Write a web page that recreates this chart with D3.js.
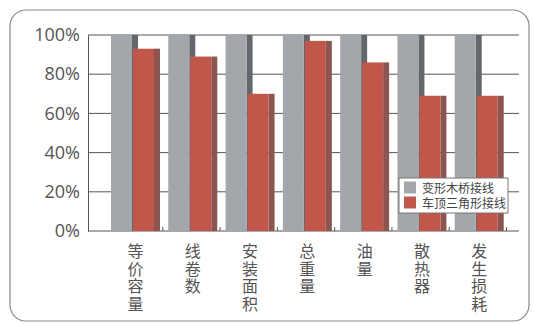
<!DOCTYPE html>
<html><head><meta charset="utf-8">
<script src="https://cdn.jsdelivr.net/npm/d3@7/dist/d3.min.js"></script>
<style>body{margin:0;background:#fff}svg{display:block}</style>
</head><body>
<svg id="c" width="534" height="324"></svg>
<script>
const categories = ["等价容量","线卷数","安装面积","总重量","油量","散热器","发生损耗"];
const seriesNames = ["变形木桥接线","车顶三角形接线"];
const seriesA = [100,100,100,100,100,100,100];
const seriesB = [93,89,70,97,86,69,69];
const yTicks = [0,20,40,60,80,100];

const svg = d3.select("#c");
const font = "'Open Sans','Noto Sans CJK SC',sans-serif";
const cjk = "'Noto Sans CJK SC',sans-serif";

// frame
svg.append("rect").attr("x",10).attr("y",10).attr("width",519).attr("height",311)
  .attr("rx",16).attr("fill","none").attr("stroke","#8a8a8a").attr("stroke-width",1.2);

const plotL = 88, plotR = 519, plotTop = 35, plotBot = 231;
const y = d3.scaleLinear().domain([0,100]).range([plotBot, plotTop]);
const x = d3.scaleBand().domain(categories).range([105.5, 506.5]).paddingInner(0).paddingOuter(0);

// gridlines
svg.append("g").selectAll("line").data(yTicks.filter(d=>d>0)).join("line")
  .attr("x1",plotL).attr("x2",plotR).attr("y1",d=>y(d)).attr("y2",d=>y(d))
  .attr("stroke","#555").attr("stroke-width",1);

// y axis
const yAxis = d3.axisLeft(y).tickValues(yTicks).tickSize(0).tickPadding(8).tickFormat(d=>d+"%");
const ga = svg.append("g").attr("transform",`translate(${plotL},0)`).call(yAxis);
ga.select(".domain").attr("stroke","#555");
ga.selectAll("text").attr("font-family",font).attr("font-size",18).attr("fill","#555");

// baseline
svg.append("line").attr("x1",plotL).attr("x2",plotR).attr("y1",plotBot).attr("y2",plotBot)
  .attr("stroke","#555").attr("stroke-width",1);
// category ticks
svg.append("g").selectAll("line").data(categories).join("line")
  .attr("x1",(d,i)=>x.range()[0]+x.step()*(i+1)).attr("x2",(d,i)=>x.range()[0]+x.step()*(i+1))
  .attr("y1",plotBot).attr("y2",plotBot-4).attr("stroke","#555");

// bars
const fw = 21, sw = 6, off = 5.5;
const groups = svg.append("g").selectAll("g").data(categories).join("g")
  .attr("transform",d=>`translate(${x(d)+off},0)`);
groups.append("rect").attr("x",fw).attr("width",sw)
  .attr("y",(d,i)=>y(seriesA[i])).attr("height",(d,i)=>plotBot-y(seriesA[i])).attr("fill","#63676b");
groups.append("rect").attr("x",0).attr("width",fw)
  .attr("y",(d,i)=>y(seriesA[i])).attr("height",(d,i)=>plotBot-y(seriesA[i])).attr("fill","#a3a6aa");
groups.append("rect").attr("x",fw+1+fw).attr("width",sw)
  .attr("y",(d,i)=>y(seriesB[i])).attr("height",(d,i)=>plotBot-y(seriesB[i])).attr("fill","#8c5650");
groups.append("rect").attr("x",fw+1).attr("width",fw)
  .attr("y",(d,i)=>y(seriesB[i])).attr("height",(d,i)=>plotBot-y(seriesB[i])).attr("fill","#c1564b");

// category labels vertical (one character per line)
const cx = (fw*2+sw+1)/2;
groups.append("text").attr("x",cx).attr("y",257)
  .attr("font-family",cjk).attr("font-size",16).attr("fill","#555").attr("text-anchor","middle")
  .selectAll("tspan").data(d=>Array.from(d)).join("tspan")
  .attr("x",cx).attr("dy",(c,i)=>i===0?0:17.5).text(c=>c);

// legend
const lg = svg.append("g").attr("transform","translate(399,178)");
lg.append("rect").attr("width",109).attr("height",35).attr("fill","#fff").attr("stroke","#777");
const colors = ["#a3a6aa","#c1564b"];
seriesNames.forEach((n,i)=>{
  lg.append("rect").attr("x",5).attr("y",3.5+i*15).attr("width",12).attr("height",12).attr("fill",colors[i]);
  lg.append("text").attr("x",23).attr("y",14.5+i*15).attr("font-family",cjk).attr("font-size",12)
    .attr("fill","#444").text(n);
});
</script>
</body></html>
